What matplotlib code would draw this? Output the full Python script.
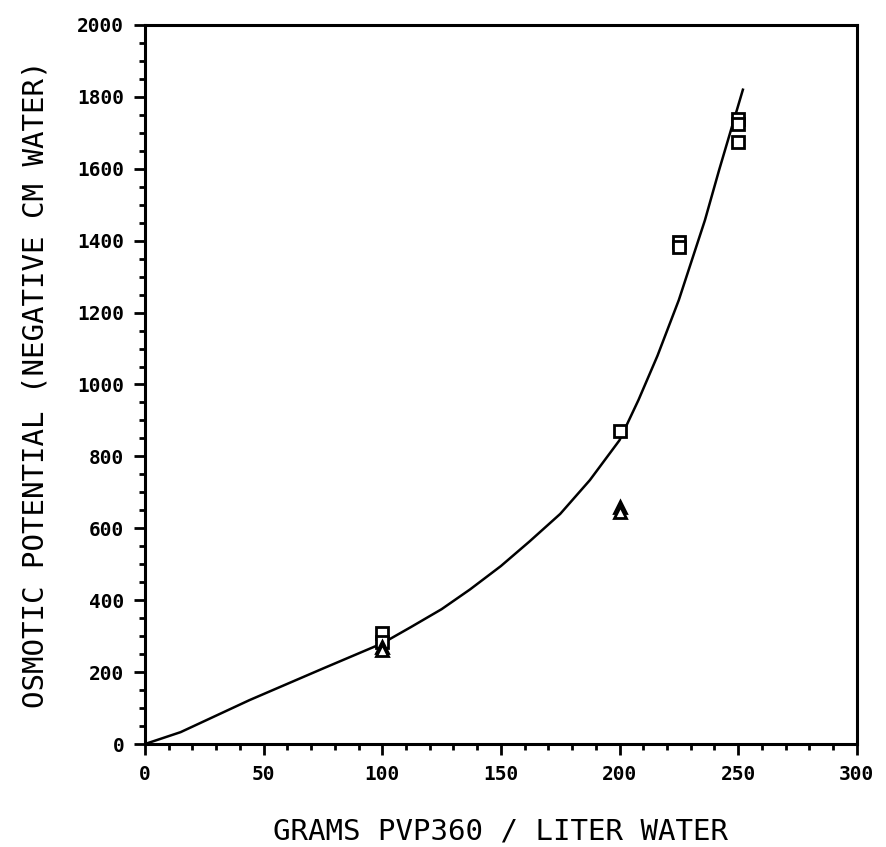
import matplotlib
matplotlib.use("Agg")
import matplotlib.pyplot as plt
from matplotlib.ticker import MultipleLocator

plt.rcParams["font.family"] = ["DejaVu Sans Mono"]

# fitted curve
curve_x = [0, 15, 44, 75, 100, 112, 125, 137, 150, 162, 175, 187.5, 200, 208, 216, 225, 236, 242, 252]
curve_y = [0, 33, 122, 210, 280, 325, 375, 430, 495, 563, 640, 734, 845, 957, 1080, 1235, 1457, 1597, 1820]

# measured points
square_x = [100, 100, 200, 225, 225, 250, 250, 250]
square_y = [308, 285, 870, 1397, 1383, 1738, 1725, 1675]
triangle_x = [100, 100, 200, 200]
triangle_y = [270, 262, 660, 645]

fig = plt.figure(figsize=(8.86, 8.47), dpi=100)
ax = fig.add_axes([0.1637, 0.1216, 0.967 - 0.1637, 0.9705 - 0.1216])

ax.plot(curve_x, curve_y, color="black", lw=1.8)
ax.plot(square_x, square_y, linestyle="none", marker="s", ms=8, mfc="white",
        mec="black", mew=2.0)
ax.plot(triangle_x, triangle_y, linestyle="none", marker="^", ms=8, mfc="white",
        mec="black", mew=2.0)

ax.set_xlim(0, 300)
ax.set_ylim(0, 2000)
ax.xaxis.set_major_locator(MultipleLocator(50))
ax.xaxis.set_minor_locator(MultipleLocator(10))
ax.yaxis.set_major_locator(MultipleLocator(200))
ax.yaxis.set_minor_locator(MultipleLocator(50))
ax.tick_params(which="major", direction="out", length=8, width=2, labelsize=14, pad=7)
ax.tick_params(which="minor", direction="out", length=4, width=2)
for lbl in ax.get_xticklabels() + ax.get_yticklabels():
    lbl.set_fontweight("bold")
for s in ax.spines.values():
    s.set_linewidth(2.2)

ax.set_xlabel("GRAMS PVP360 / LITER WATER", fontsize=21, labelpad=24)
ax.set_ylabel("OSMOTIC POTENTIAL (NEGATIVE CM WATER)", fontsize=21, labelpad=20)

fig.savefig("out.png", dpi=100)
